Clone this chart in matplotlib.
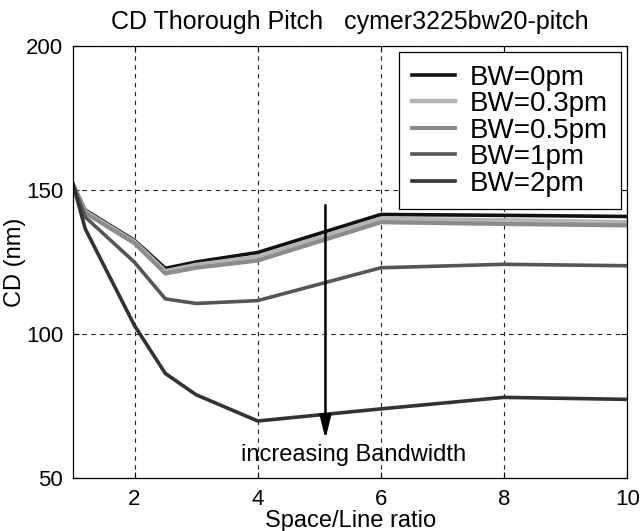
import numpy as np
import matplotlib
matplotlib.use("Agg")
import matplotlib.pyplot as plt

plt.rcParams['font.family'] = ['Liberation Sans', 'DejaVu Sans']

# space/line ratio and CD values
ratio = [1, 1.2, 2, 2.5, 3, 4, 6, 8, 10]
cd_bw0 = [152, 143, 132.5, 122.8, 125, 128.3, 141.5, 141.2, 140.8]
cd_bw03 = [152, 142.5, 132, 121.8, 124, 126.8, 140, 139.5, 138.8]
cd_bw05 = [152, 142, 131.5, 121, 123, 125.5, 138.8, 138.2, 137.7]
cd_bw1 = [152, 140.6, 124.9, 112.2, 110.6, 111.6, 123, 124.2, 123.7]
cd_bw2 = [152, 136.5, 102.9, 86.3, 78.9, 69.8, 74, 78, 77.3]
labels = ["BW=0pm", "BW=0.3pm", "BW=0.5pm", "BW=1pm", "BW=2pm"]

fig = plt.figure(figsize=(6.4, 5.31), dpi=100)
ax = fig.add_axes([0.114, 0.0998, 0.866, 0.8136])

ax.plot(ratio, cd_bw0, color='#111111', lw=2.6, label=labels[0])
ax.plot(ratio, cd_bw03, color='#b4b4b4', lw=3.2, label=labels[1])
ax.plot(ratio, cd_bw05, color='#8c8c8c', lw=3.0, label=labels[2])
ax.plot(ratio, cd_bw1, color='#555555', lw=2.6, label=labels[3])
ax.plot(ratio, cd_bw2, color='#333333', lw=2.6, label=labels[4])

ax.set_xlim(1, 10)
ax.set_ylim(50, 200)
ax.set_xticks([2, 4, 6, 8, 10])
ax.set_yticks([50, 100, 150, 200])
ax.tick_params(direction='in', length=4, labelsize=16, top=True, right=True)
ax.tick_params(axis='x', pad=8)
ax.tick_params(axis='y', pad=7)
ax.grid(True, color='#222222', linestyle=(0, (4, 4)), lw=0.8)
for s in ax.spines.values():
    s.set_linewidth(0.9)

ax.set_xlabel("Space/Line ratio", fontsize=17, labelpad=0)
ax.set_ylabel("CD (nm)", fontsize=17, labelpad=0)
ax.set_title("CD Thorough Pitch   cymer3225bw20-pitch", fontsize=18, pad=12)

ax.annotate("", xy=(5.1, 63.6), xytext=(5.1, 144.7),
            arrowprops=dict(arrowstyle='-|>,head_length=1.4,head_width=0.35',
                            color='black', lw=1.8, shrinkA=0, shrinkB=0))
ax.text(5.56, 55.9, "increasing Bandwidth", fontsize=17, ha='center', va='baseline')

leg = ax.legend(loc='upper right', bbox_to_anchor=(0.988, 0.986), fontsize=20,
                fancybox=False, framealpha=1, edgecolor='black',
                handlelength=1.55, handletextpad=0.55, labelspacing=0.02,
                borderpad=0.45, borderaxespad=0)
leg.get_frame().set_linewidth(0.9)

fig.savefig("out.png", dpi=100)
